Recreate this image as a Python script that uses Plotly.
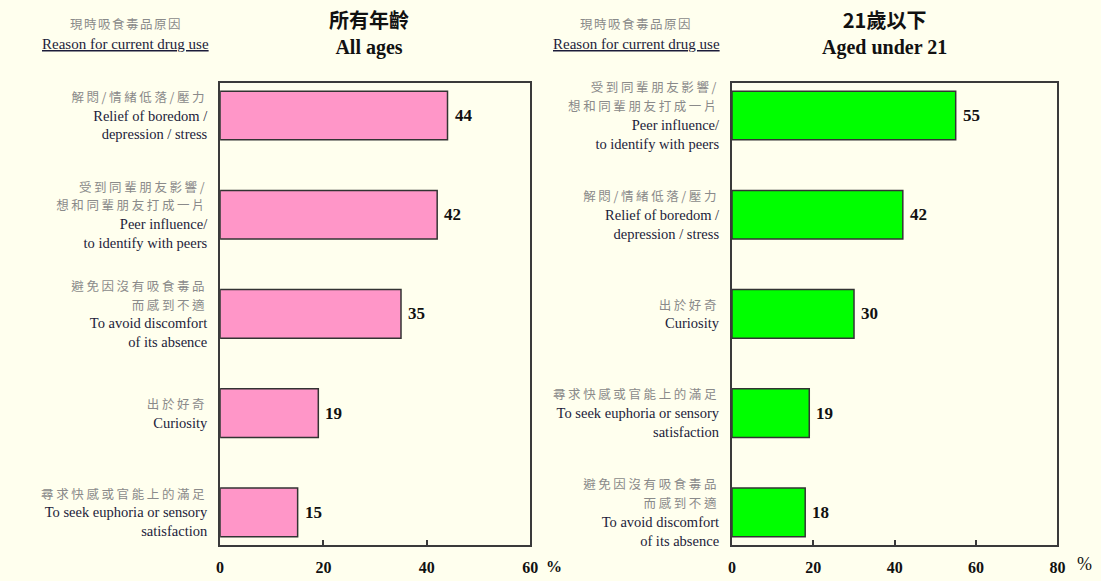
import plotly.graph_objects as go

# ---------------- data ----------------
left_keys = ["boredom", "peer", "discomfort", "curiosity", "euphoria"]
left_zh = [["解悶/情緒低落/壓力"],
           ["受到同輩朋友影響/", "想和同輩朋友打成一片"],
           ["避免因沒有吸食毒品", "而感到不適"],
           ["出於好奇"],
           ["尋求快感或官能上的滿足"]]
left_en = [["Relief of boredom /", "depression / stress"],
           ["Peer influence/", "to identify with peers"],
           ["To avoid discomfort", "of its absence"],
           ["Curiosity"],
           ["To seek euphoria or sensory", "satisfaction"]]
left_values = [44, 42, 35, 19, 15]

right_keys = ["peer", "boredom", "curiosity", "euphoria", "discomfort"]
right_zh = [["受到同輩朋友影響/", "想和同輩朋友打成一片"],
            ["解悶/情緒低落/壓力"],
            ["出於好奇"],
            ["尋求快感或官能上的滿足"],
            ["避免因沒有吸食毒品", "而感到不適"]]
right_en = [["Peer influence/", "to identify with peers"],
            ["Relief of boredom /", "depression / stress"],
            ["Curiosity"],
            ["To seek euphoria or sensory", "satisfaction"],
            ["To avoid discomfort", "of its absence"]]
right_values = [55, 42, 30, 19, 18]

left_ticks = [0, 20, 40, 60]
right_ticks = [0, 20, 40, 60, 80]

title_left = ("所有年齡", "All ages")
title_right = ("21歲以下", "Aged under 21")
header = ("現時吸食毒品原因", "Reason for current drug use")

# ---------------- style ----------------
BG = "#FFFFEE"
SERIF = "Liberation Serif, Times New Roman, serif"
CJK = "Noto Sans CJK TC, Noto Sans CJK SC, sans-serif"
ZH_COLOR = "#8a8a8a"
EN_COLOR = "#1c1c3a"
W, H = 1101, 581


def make_label(zh_lines, en_lines):
    parts = [f"<span style='font-family:{CJK};color:{ZH_COLOR};font-size:12.5px;letter-spacing:2.6px'>{z}</span>"
             for z in zh_lines]
    parts += [f"<span style='color:{EN_COLOR}'>{e}</span>" for e in en_lines]
    return "<br>".join(parts)


left_labels = [make_label(z, e) for z, e in zip(left_zh, left_en)]
right_labels = [make_label(z, e) for z, e in zip(right_zh, right_en)]

fig = go.Figure()
fig.add_trace(go.Bar(x=left_values, y=left_keys, orientation="h", width=0.49,
                     marker=dict(color="#FF96C8", line=dict(color="#333333", width=1.5)),
                     xaxis="x", yaxis="y", hoverinfo="skip"))
fig.add_trace(go.Bar(x=right_values, y=right_keys, orientation="h", width=0.49,
                     marker=dict(color="#00FF00", line=dict(color="#333333", width=1.5)),
                     xaxis="x2", yaxis="y2", hoverinfo="skip"))

ann = []
for xr, yr, vals, keys in (("x", "y", left_values, left_keys), ("x2", "y2", right_values, right_keys)):
    for v, k in zip(vals, keys):
        ann.append(dict(x=v, y=k, xref=xr, yref=yr, text=f"<b>{v}</b>", showarrow=False,
                        xanchor="left", yanchor="middle", xshift=5,
                        font=dict(family=SERIF, size=17, color="#111111")))

# percent signs next to last tick
ann.append(dict(x=left_ticks[-1], y=1 - 569 / H, xref="x", yref="paper", text="<b>%</b>",
                showarrow=False, xanchor="left", yanchor="middle", xshift=14,
                font=dict(family=SERIF, size=16, color="#111111")))
ann.append(dict(x=right_ticks[-1], y=1 - 567 / H, xref="x2", yref="paper", text="%",
                showarrow=False, xanchor="left", yanchor="middle", xshift=18,
                font=dict(family=SERIF, size=18, color="#111111")))

# titles (two lines in one text block)
for cx, (zh, en) in ((369, title_left), (890, title_right)):
    ann.append(dict(x=cx / W, y=1 - 27 / H, xref="paper", yref="paper",
                    text=f"<span style='font-family:{CJK};font-size:20px'><b>{zh}</b></span><br><b>{en}</b>",
                    showarrow=False, xanchor="center", yanchor="middle",
                    font=dict(family=SERIF, size=20, color="#111111")))

# headers
for cx in (123, 639):
    ann.append(dict(x=cx / W, y=1 - 19 / H, xref="paper", yref="paper",
                    text=f"<span style='letter-spacing:1.5px'>{header[0]}</span>",
                    showarrow=False, xanchor="center", yanchor="middle",
                    font=dict(family=CJK, size=12.5, color=ZH_COLOR)))
    ann.append(dict(x=cx / W, y=1 - 40 / H, xref="paper", yref="paper", text=f"<u>{header[1]}</u>",
                    showarrow=False, xanchor="center", yanchor="middle",
                    font=dict(family=SERIF, size=15, color=EN_COLOR)))

ydom = [1 - 548 / H, 1 - 79 / H]
xaxis_common = dict(showgrid=False, zeroline=False, showline=True, linecolor="#3a3a3a",
                    linewidth=2, mirror=True, ticks="inside", ticklen=5, tickcolor="#3a3a3a",
                    tickwidth=1.5, tickfont=dict(family=SERIF, size=16, color="#111111"),
                    ticklabelstandoff=6, fixedrange=True)
yaxis_common = dict(showgrid=False, zeroline=False, showline=True, linecolor="#3a3a3a",
                    linewidth=2, mirror=True, ticks="", range=[4.333, -0.328],
                    tickfont=dict(family=SERIF, size=14.5, color=EN_COLOR),
                    ticklabelstandoff=8, fixedrange=True)

fig.update_layout(
    width=W, height=H, margin=dict(l=0, r=0, t=0, b=0),
    paper_bgcolor=BG, plot_bgcolor=BG, showlegend=False,
    xaxis=dict(domain=[218.5 / W, 532 / W], anchor="y", range=[0, 60],
               tickvals=left_ticks, ticktext=[f"<b>{t}</b>" for t in left_ticks], **xaxis_common),
    yaxis=dict(domain=ydom, anchor="x", type="category", tickvals=left_keys,
               ticktext=left_labels, **yaxis_common),
    xaxis2=dict(domain=[736 / W, 1065 / W], anchor="y2", range=[0, 80],
                tickvals=right_ticks, ticktext=[f"<b>{t}</b>" for t in right_ticks], **xaxis_common),
    yaxis2=dict(domain=ydom, anchor="x2", type="category", tickvals=right_keys,
                ticktext=right_labels, **yaxis_common),
    annotations=ann,
)

fig.write_html("out.html")
